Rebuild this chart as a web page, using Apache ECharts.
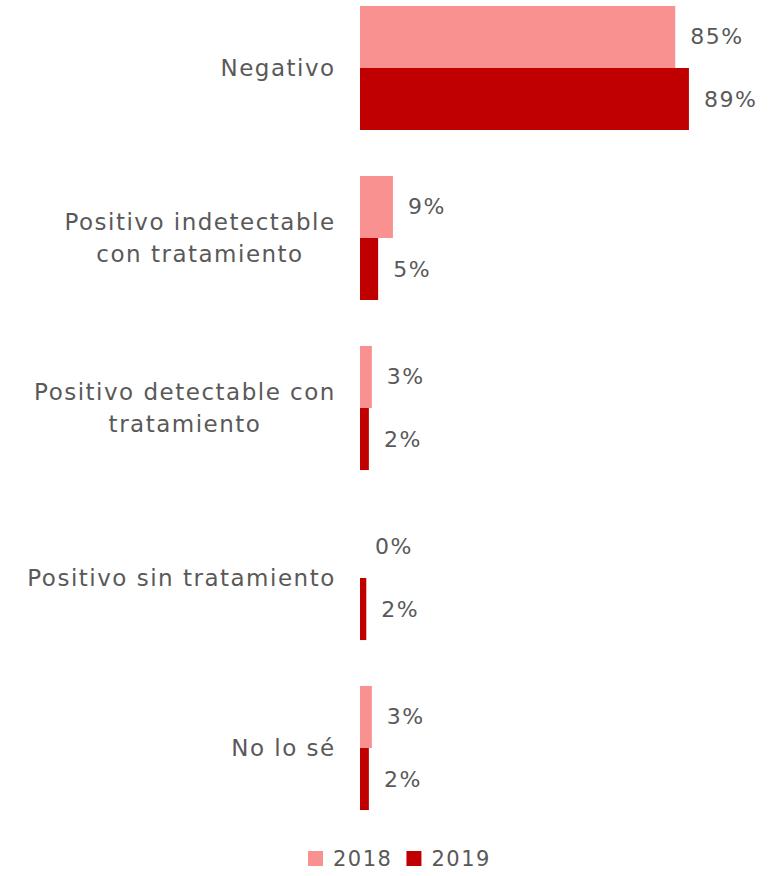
<!DOCTYPE html>
<html>
<head>
<meta charset="utf-8">
<script src="https://cdn.jsdelivr.net/npm/echarts@6/dist/echarts.min.js"></script>
<style>
  html, body { margin: 0; padding: 0; background: #fff; }
  #chart { width: 769px; height: 876px; }
  #chart text { letter-spacing: 1.5px; }
</style>
</head>
<body>
<div id="chart"></div>
<script>
let categories = [
    'Negativo',
    'Positivo indetectable\ncon tratamiento',
    'Positivo detectable con\ntratamiento',
    'Positivo sin tratamiento',
    'No lo sé'
]
let years = ['2018', '2019']
let values2018 = [85.2, 8.9, 3.2, 0, 3.2]
let values2019 = [88.9, 4.9, 2.4, 1.7, 2.4]

let font = 'DejaVu Sans'
let textColor = '#595959'
let catFontSize = 23
let letterSpace = 1.5

// measure lines so every label block can centre its lines
let measureCtx = document.createElement('canvas').getContext('2d')
measureCtx.font = catFontSize + 'px "' + font + '"'
function lineWidth (s) {
    return measureCtx.measureText(s).width + s.length * letterSpace
}

let richStyles = {}
categories.forEach(function (c, i) {
    let w = Math.max.apply(null, c.split('\n').map(lineWidth))
    richStyles['c' + i] = {
        width: Math.ceil(w),
        align: 'center',
        fontFamily: font,
        fontSize: catFontSize,
        lineHeight: 32,
        color: textColor
    }
})

let myChart = echarts.init(document.getElementById('chart'), null, { renderer: 'svg' })

function pctLabel (params) {
    return Math.round(params.value) + '%'
}

let option = {
    animation: false,
    textStyle: { fontFamily: font },
    legend: {
        data: years,
        bottom: 7,
        left: 308,
        padding: 0,
        itemWidth: 15,
        itemHeight: 15,
        itemGap: 20,
        icon: 'rect',
        textStyle: {
            fontFamily: font,
            fontSize: 21,
            color: textColor,
            padding: [0, 0, 0, 5]
        }
    },
    grid: {
        left: 360,
        right: 39,
        top: -17,
        bottom: 43,
        outerBoundsMode: 'none',
        containLabel: false
    },
    xAxis: {
        type: 'value',
        min: 0,
        max: 100,
        show: false
    },
    yAxis: {
        type: 'category',
        inverse: true,
        data: categories,
        axisLine: { show: false },
        axisTick: { show: false },
        axisLabel: {
            margin: 24,
            align: 'right',
            formatter: function (value) {
                let i = categories.indexOf(value)
                return value.split('\n').map(function (l) {
                    return '{c' + i + '|' + l + '}'
                }).join('\n')
            },
            rich: richStyles
        }
    },
    series: [
        {
            name: years[0],
            type: 'bar',
            data: values2018,
            barGap: '0%',
            barCategoryGap: '27%',
            itemStyle: { color: '#F99191' },
            label: {
                show: true,
                position: 'right',
                distance: 15,
                formatter: pctLabel,
                fontFamily: font,
                fontSize: 22,
                color: textColor
            }
        },
        {
            name: years[1],
            type: 'bar',
            data: values2019,
            barGap: '0%',
            barCategoryGap: '27%',
            itemStyle: { color: '#C00000' },
            label: {
                show: true,
                position: 'right',
                distance: 15,
                formatter: pctLabel,
                fontFamily: font,
                fontSize: 22,
                color: textColor
            }
        }
    ]
}

myChart.setOption(option)
</script>
</body>
</html>
